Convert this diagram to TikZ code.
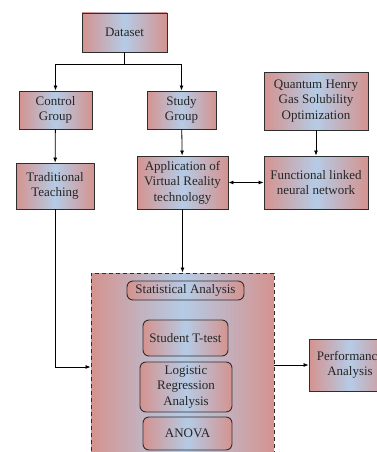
\documentclass[tikz,border=0pt]{standalone}
\usepackage{fontspec}
\setmainfont{Liberation Serif}
\usepackage{xcolor}
\usepackage{tikz}
\usetikzlibrary{calc,arrows.meta,positioning}

\definecolor{rosy}{HTML}{D4938F}
\definecolor{skyish}{HTML}{B5CBE6}
\definecolor{edge}{HTML}{2E2E2E}

\tikzset{
  block/.style={draw=edge,line width=0.9pt,left color=rosy,right color=rosy,
    middle color=skyish,align=center,inner sep=2pt,text=black!85},
  roundblock/.style={block,rounded corners=6pt},
  groupbox/.style={block,dashed,dash pattern=on 4pt off 3pt}
}

\begin{document}
\begin{tikzpicture}[x=1pt,y=-1pt,>={Latex[length=5pt,width=4pt]},line width=0.8pt,
  font=\fontsize{13}{15.5}\selectfont]
  \useasboundingbox (0,0) rectangle (377,452);
  \clip (0,0) rectangle (377,452);

  % top row
  \node[block,minimum width=85pt,minimum height=39pt] (dataset) at (124.5,32.5) {Dataset};
  \node[block,minimum width=73pt,minimum height=38pt] (control) at (55.5,110) {Control\\Group};
  \node[block,minimum width=69pt,minimum height=38pt] (study) at (181.5,110) {Study\\Group};
  \node[block,minimum width=104pt,minimum height=58pt] (qhgso) at (316,101)
    {Quantum Henry\\Gas Solubility\\Optimization};

  % middle row
  \node[block,minimum width=78pt,minimum height=46pt] (trad) at (55,186) {Traditional\\Teaching};
  \node[block,minimum width=91pt,minimum height=53pt] (vr) at (182.5,182.5)
    {Application of\\Virtual Reality\\technology};
  \node[block,minimum width=104pt,minimum height=53pt] (flnn) at (316,182.5)
    {Functional linked\\neural network};

  % analysis group
  \node[groupbox,minimum width=183pt,minimum height=188pt] (stats) at (182.5,367) {};
  \node[roundblock,minimum width=117pt,minimum height=19pt] (statana) at (185.5,290.5) {Statistical Analysis};
  \node[roundblock,minimum width=85pt,minimum height=36pt] (ttest) at (185.5,338) {Student T-test};
  \node[roundblock,minimum width=92pt,minimum height=50pt] (logreg) at (186,387)
    {Logistic\\Regression\\Analysis};
  \node[roundblock,minimum width=89pt,minimum height=33pt] (anova) at (187.5,433.5) {ANOVA};
  \node[block,minimum width=82pt,minimum height=52pt] (perf) at (350,365)
    {Performance\\Analysis};

  % connectors
  \draw (dataset.south) -- ++(0,12) coordinate (split);
  \draw[->] (split) -| (control.north);
  \draw[->] (split) -| (study.north);
  \draw[->] (control) -- (trad);
  \draw[->] (study) -- (vr);
  \draw[->] (qhgso) -- (flnn);
  \draw[<->] (vr) -- (flnn);
  \draw[->] (vr) -- (stats.north -| vr);
  \draw[->] (trad.south) |- (stats.west);
  \draw[->] (stats.east |- perf.west) -- (perf.west);
\end{tikzpicture}
\end{document}
